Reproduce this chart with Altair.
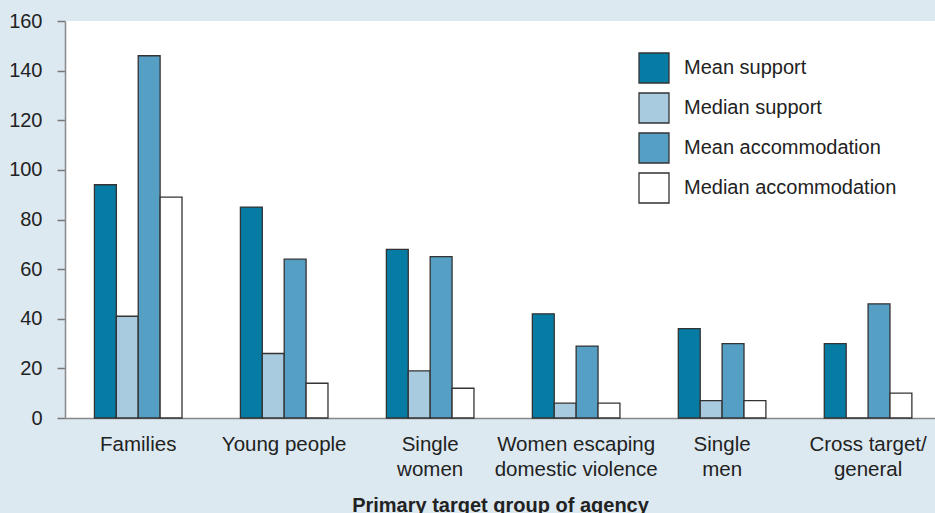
import altair as alt
import pandas as pd

groups = ["Families", "Young people", "Single|women", "Women escaping|domestic violence",
          "Single|men", "Cross target/|general"]
series = ["Mean support", "Median support", "Mean accommodation", "Median accommodation"]
mean_support = [94, 85, 68, 42, 36, 30]
median_support = [41, 26, 19, 6, 7, 0]
mean_accommodation = [146, 64, 65, 29, 30, 46]
median_accommodation = [89, 14, 12, 6, 7, 10]
colors = ["#067ca5", "#a8cbe0", "#559fc4", "#ffffff"]

rows = []
for values, name in zip([mean_support, median_support, mean_accommodation, median_accommodation], series):
    for g, v in zip(groups, values):
        rows.append({"group": g, "series": name, "value": v})
df = pd.DataFrame(rows)

font = "Liberation Sans"

chart = alt.Chart(df).mark_bar(stroke="#333333", strokeWidth=1.3).encode(
    x=alt.X("group:N", sort=groups,
            scale=alt.Scale(paddingInner=0.4, paddingOuter=0.18, align=0.56),
            axis=alt.Axis(title="Primary target group of agency", labelAngle=0,
                          labelExpr="split(datum.label, '|')",
                          labelFontSize=20.5, labelColor="#222222", labelFont=font,
                          labelLineHeight=25, labelPadding=16, ticks=False,
                          domainColor="#888888", domainWidth=1.5,
                          titleFont=font, titleFontSize=20, titleFontWeight="bold",
                          titleColor="#222222", titlePadding=16)),
    xOffset=alt.XOffset("series:N", sort=series),
    y=alt.Y("value:Q", scale=alt.Scale(domain=[0, 160], nice=False),
            axis=alt.Axis(title=None, values=list(range(0, 161, 20)), grid=False,
                          labelFontSize=20, labelColor="#222222", labelFont=font,
                          tickSize=8, tickColor="#777777", tickWidth=1.5,
                          domainColor="#888888", domainWidth=1.5, labelPadding=15)),
    color=alt.Color("series:N", sort=series,
                    scale=alt.Scale(domain=series, range=colors),
                    legend=alt.Legend(title=None, orient="none", legendX=573, legendY=31,
                                      symbolType="square", symbolSize=900,
                                      symbolStrokeColor="#333333", symbolStrokeWidth=1.3,
                                      symbolOpacity=1, rowPadding=4, labelLimit=400,
                                      labelFontSize=20, labelFont=font, labelColor="#222222",
                                      labelOffset=14)),
).properties(
    width=870, height=397,
    background="#dde9f1",
    padding={"left": 65, "top": 21, "right": 0, "bottom": 95},
    autosize=alt.AutoSizeParams(type="none"),
).configure_view(fill="white", stroke=None)

chart.save("out.html", embed_options={"renderer": "svg", "actions": False})
